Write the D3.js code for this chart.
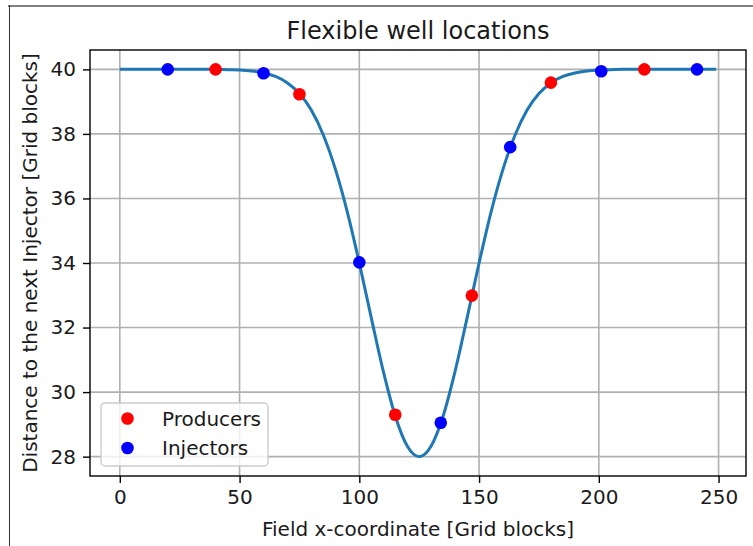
<!DOCTYPE html>
<html>
<head>
<meta charset="utf-8">
<script src="https://cdn.jsdelivr.net/npm/d3@7"></script>
<style>
  html, body { margin: 0; padding: 0; background: #fff; }
  svg { display: block; }
  text { font-family: "DejaVu Sans", sans-serif; fill: #1a1a1a; }
</style>
</head>
<body>
<svg id="chart" width="753" height="546"></svg>
<script>
// ---- data ----
const curveX = [0,5,10,15,20,25,30,35,40,45,50,55,60,65,70,75,80,85,90,95,100,105,110,115,120,125,130,135,140,145,150,155,160,165,170,175,180,185,190,195,200,205,210,215,220,225,230,235,240,245,249];
const curveY = [40,40,40,40,40,40,40,40,40,39.99,39.98,39.95,39.89,39.78,39.58,39.25,38.73,37.96,36.91,35.58,34.00,32.30,30.65,29.26,28.33,28.00,28.33,29.26,30.65,32.30,34.00,35.58,36.91,37.96,38.73,39.25,39.58,39.78,39.89,39.95,39.98,39.99,40,40,40,40,40,40,40,40,40];
const producerX = [40, 75, 115, 147, 180, 219];
const producerY = [40.00, 39.23, 29.30, 32.99, 39.59, 40.00];
const injectorX = [20, 60, 100, 134, 163, 201, 241];
const injectorY = [40.00, 39.88, 34.02, 29.05, 37.59, 39.94, 40.00];
const xTicks = [0, 50, 100, 150, 200, 250];
const yTicks = [28, 30, 32, 34, 36, 38, 40];
const titleText = "Flexible well locations";
const xLabel = "Field x-coordinate [Grid blocks]";
const yLabel = "Distance to the next Injector [Grid blocks]";
const legendItems = [{label: "Producers", color: "#ff0000"}, {label: "Injectors", color: "#0000ff"}];

// ---- layout ----
const svg = d3.select("#chart");
const L = 90, R = 746, T = 50, B = 476;
const x = d3.scaleLinear().domain([-12.45, 261.45]).range([L, R]);
const y = d3.scaleLinear().domain([27.4, 40.6]).range([B, T]);

// outer frame (screenshot border)
svg.append("line").attr("x1", 8).attr("x2", 753).attr("y1", 6).attr("y2", 6)
  .attr("stroke", "#808080").attr("stroke-width", 2);
svg.append("line").attr("x1", 9.5).attr("x2", 9.5).attr("y1", 5).attr("y2", 546)
  .attr("stroke", "#333").attr("stroke-width", 1);

// grid
const g = svg.append("g");
g.selectAll(".gx").data(xTicks).enter().append("line")
  .attr("x1", d => x(d)).attr("x2", d => x(d)).attr("y1", T).attr("y2", B)
  .attr("stroke", "#b0b0b0").attr("stroke-width", 1.6);
g.selectAll(".gy").data(yTicks).enter().append("line")
  .attr("y1", d => y(d)).attr("y2", d => y(d)).attr("x1", L).attr("x2", R)
  .attr("stroke", "#b0b0b0").attr("stroke-width", 1.6);

// curve
const pts = curveX.map((v, i) => [v, curveY[i]]);
svg.append("path").datum(pts)
  .attr("d", d3.line().x(d => x(d[0])).y(d => y(d[1])).curve(d3.curveMonotoneX))
  .attr("fill", "none").attr("stroke", "#1f77b4").attr("stroke-width", 3);

// markers
svg.selectAll(".prod").data(producerX.map((v, i) => [v, producerY[i]])).enter().append("circle")
  .attr("cx", d => x(d[0])).attr("cy", d => y(d[1])).attr("r", 6.3).attr("fill", "#ff0000");
svg.selectAll(".inj").data(injectorX.map((v, i) => [v, injectorY[i]])).enter().append("circle")
  .attr("cx", d => x(d[0])).attr("cy", d => y(d[1])).attr("r", 6.3).attr("fill", "#0000ff");

// axes
const xAxis = svg.append("g").attr("transform", `translate(0,${B})`)
  .call(d3.axisBottom(x).tickValues(xTicks).tickSize(7).tickPadding(7).tickFormat(d3.format("d")));
const yAxis = svg.append("g").attr("transform", `translate(${L},0)`)
  .call(d3.axisLeft(y).tickValues(yTicks).tickSize(7).tickPadding(7).tickFormat(d3.format("d")));
[xAxis, yAxis].forEach(a => {
  a.select(".domain").remove();
  a.selectAll(".tick line").attr("stroke", "#000").attr("stroke-width", 1.4);
  a.selectAll("text").attr("font-size", 20).attr("font-family", "DejaVu Sans").attr("fill", "#1a1a1a");
});

// spines
svg.append("rect").attr("x", L).attr("y", T).attr("width", R - L).attr("height", B - T)
  .attr("fill", "none").attr("stroke", "#000").attr("stroke-width", 1.4);

// legend
const lg = svg.append("g");
lg.append("rect").attr("x", 101).attr("y", 403).attr("width", 167).attr("height", 63)
  .attr("rx", 4).attr("fill", "#fff").attr("fill-opacity", 0.8)
  .attr("stroke", "#cccccc").attr("stroke-width", 1.4);
legendItems.forEach((it, i) => {
  const cy = 418.5 + i * 29.5;
  lg.append("circle").attr("cx", 127.5).attr("cy", cy).attr("r", 6.3).attr("fill", it.color);
  lg.append("text").attr("x", 162).attr("y", cy + 7).attr("font-size", 20).text(it.label);
});

// title and labels
svg.append("text").attr("x", (L + R) / 2).attr("y", 39).attr("text-anchor", "middle")
  .attr("font-size", 24).text(titleText);
svg.append("text").attr("x", (L + R) / 2).attr("y", 536).attr("text-anchor", "middle")
  .attr("font-size", 20).text(xLabel);
svg.append("text").attr("transform", `translate(37,${(T + B) / 2}) rotate(-90)`)
  .attr("text-anchor", "middle").attr("font-size", 20).text(yLabel);
</script>
</body>
</html>
